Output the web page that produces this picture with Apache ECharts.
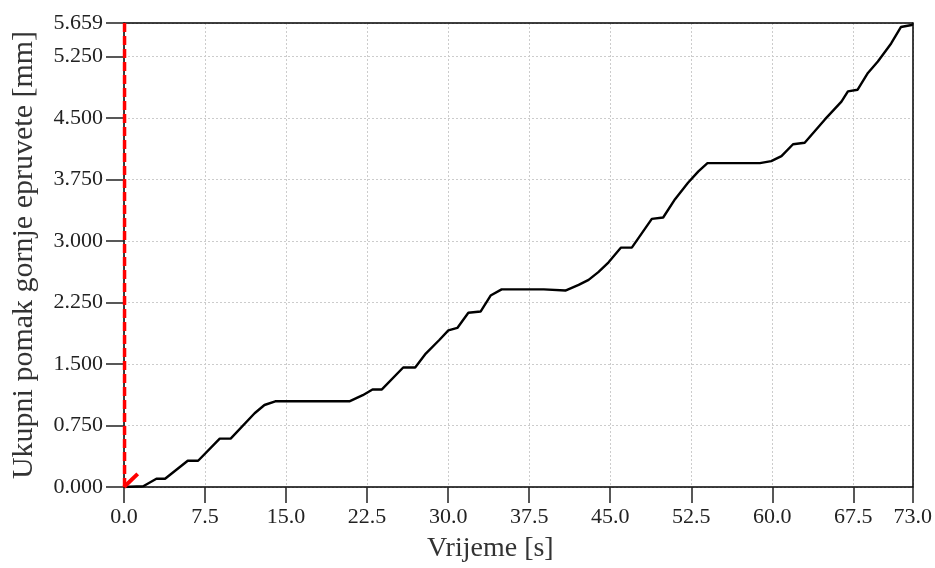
<!DOCTYPE html>
<html>
<head>
<meta charset="utf-8">
<script src="https://cdn.jsdelivr.net/npm/echarts@6/dist/echarts.min.js"></script>
<style>
html,body{margin:0;padding:0;background:#fff;}
#c{width:935px;height:568px;}
</style>
</head>
<body>
<div id="c"></div>
<script>
// Time [s]
const timeS = [0, 1.78, 3.0, 3.8, 5.9, 6.86, 8.86, 9.87, 12.09, 13.0, 14.0, 20.86, 22.1, 23.0, 23.87,
  25.84, 26.95, 27.93, 29.16, 30.02, 30.85, 31.87, 33.0, 33.93, 34.95, 38.85, 38.9, 40.85, 42.08,
  43.0, 43.9, 44.85, 46.0, 47.0, 48.85, 49.9, 51.0, 52.2, 53.16, 54.0, 58.85, 59.9, 60.85, 61.92,
  63.0, 64.85, 66.4, 67.0, 67.9, 68.85, 69.77, 71.0, 71.9, 72.9, 73.0];
// Total displacement of the upper specimen [mm]
const dispMm = [0, 0.01, 0.10, 0.10, 0.32, 0.32, 0.59, 0.59, 0.90, 1.00, 1.045, 1.045, 1.12, 1.19, 1.19,
  1.457, 1.457, 1.627, 1.79, 1.91, 1.94, 2.125, 2.14, 2.335, 2.41, 2.41, 2.396, 2.396, 2.465,
  2.526, 2.62, 2.74, 2.92, 2.92, 3.27, 3.287, 3.51, 3.71, 3.85, 3.95, 3.95, 3.975, 4.035, 4.18,
  4.198, 4.48, 4.70, 4.825, 4.845, 5.05, 5.19, 5.41, 5.61, 5.635, 5.645];
// red reference marks
const redDashX = [0.05, 0.05];
const redDashY = [0, 5.659];
const redSlopeX = [0, 1.27];
const redSlopeY = [0, 0.16];

const xMin = 0, xMax = 73.0, xStep = 7.5;
const yMin = 0, yMax = 5.659, yStep = 0.75;

const zip = (a, b) => a.map((v, i) => [v, b[i]]);

const chart = echarts.init(document.getElementById('c'), null, {renderer: 'canvas'});
const font = 'Liberation Serif, Times New Roman, serif';
const frameAxis = {
  type: 'value', axisLine: {show: true, onZero: false, lineStyle: {color: '#000', width: 1.5}},
  axisTick: {show: false}, axisLabel: {show: false}, splitLine: {show: false}
};
chart.setOption({
  animation: false,
  backgroundColor: '#fff',
  grid: {left: 124, right: 20, top: 23, bottom: 79},
  xAxis: [{
    type: 'value', min: xMin, max: xMax, interval: xStep,
    name: 'Vrijeme [s]', nameLocation: 'middle', nameGap: 48,
    nameTextStyle: {fontFamily: font, fontSize: 28, color: '#333', padding: [0, 56, 0, 0]},
    axisLine: {show: true, onZero: false, lineStyle: {color: '#000', width: 1.5}},
    axisTick: {show: true, length: 16, lineStyle: {color: '#222', width: 1.5}},
    axisLabel: {fontFamily: font, fontSize: 22, color: '#222', margin: 19,
      formatter: v => v.toFixed(1), showMaxLabel: true},
    splitLine: {show: true, lineStyle: {color: '#ccc', type: [2, 2], width: 1}}
  }, Object.assign({position: 'top', min: xMin, max: xMax}, frameAxis)],
  yAxis: [{
    type: 'value', min: yMin, max: yMax, interval: yStep,
    name: 'Ukupni pomak gornje epruvete [mm]', nameLocation: 'middle', nameGap: 85,
    nameTextStyle: {fontFamily: font, fontSize: 30, color: '#333'},
    axisLine: {show: true, onZero: false, lineStyle: {color: '#000', width: 1.5}},
    axisTick: {show: true, length: 18, lineStyle: {color: '#222', width: 1.5}},
    axisLabel: {fontFamily: font, fontSize: 22, color: '#222', margin: 21,
      formatter: v => v.toFixed(3), showMaxLabel: true},
    splitLine: {show: true, lineStyle: {color: '#ccc', type: [2, 2], width: 1}}
  }, Object.assign({position: 'right', min: yMin, max: yMax}, frameAxis)],
  series: [
    {
      type: 'line', data: zip(timeS, dispMm), symbol: 'none', z: 3,
      lineStyle: {color: '#000', width: 2.4}
    },
    {
      type: 'line', data: zip(redDashX, redDashY), symbol: 'none', z: 4,
      lineStyle: {color: '#f00', width: 3.5, type: [9, 4]}
    },
    {
      type: 'line', data: zip(redSlopeX, redSlopeY), symbol: 'none', z: 4,
      lineStyle: {color: '#f00', width: 4}
    }
  ]
});
</script>
</body>
</html>
